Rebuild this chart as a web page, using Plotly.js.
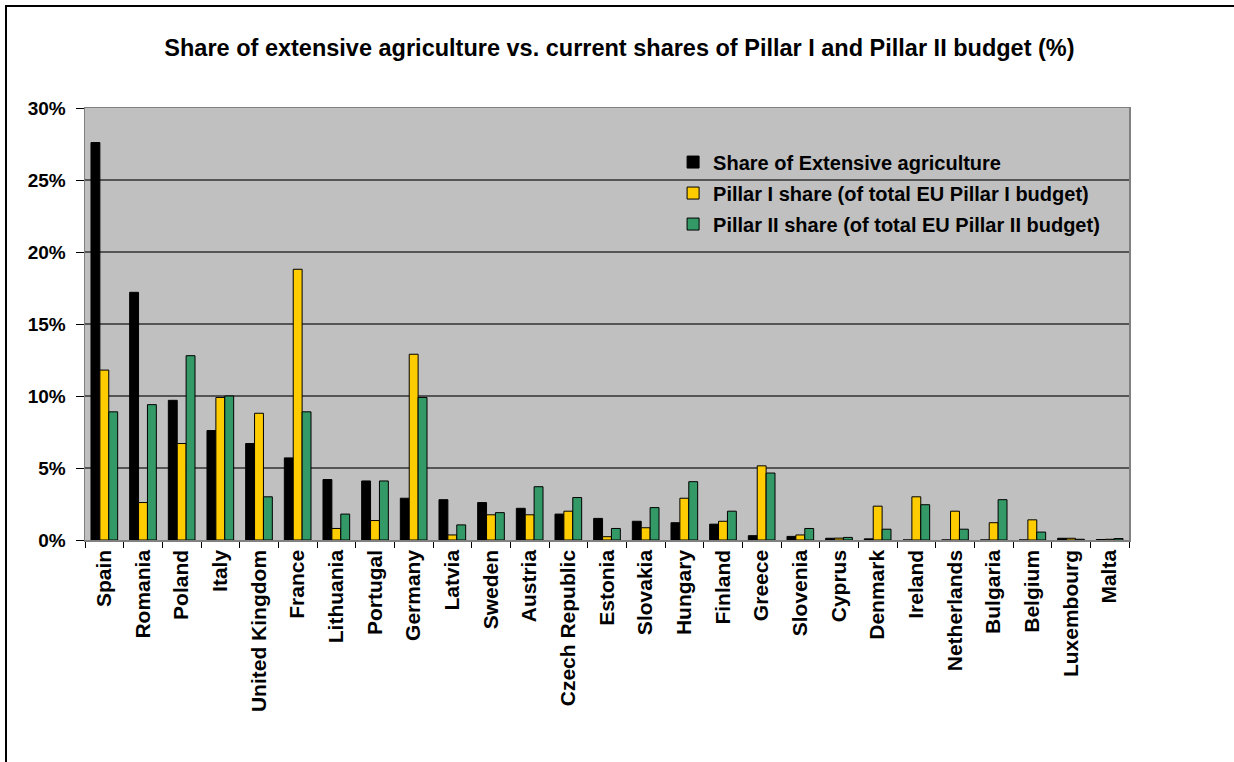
<!DOCTYPE html>
<html>
<head>
<meta charset="utf-8">
<script src="https://cdn.plot.ly/plotly-3.0.1.min.js"></script>
<style>
html,body{margin:0;padding:0;background:#fff;}
#chart{position:absolute;left:0;top:0;width:1234px;height:762px;}
#frame{position:absolute;left:5px;top:5px;width:1240px;height:770px;border-left:2px solid #000;border-top:2px solid #000;pointer-events:none;}
</style>
</head>
<body>
<div id="chart"></div>
<div id="frame"></div>
<script>
const countries = ["Spain","Romania","Poland","Italy","United Kingdom","France","Lithuania","Portugal","Germany","Latvia","Sweden","Austria","Czech Republic","Estonia","Slovakia","Hungary","Finland","Greece","Slovenia","Cyprus","Denmark","Ireland","Netherlands","Bulgaria","Belgium","Luxembourg","Malta"];
const extensiveShare = [27.6,17.2,9.7,7.6,6.7,5.7,4.2,4.1,2.9,2.8,2.6,2.2,1.8,1.5,1.3,1.2,1.1,0.3,0.25,0.12,0.08,0,0,0,0,0.12,0.03];
const pillar1Share = [11.8,2.6,6.7,9.9,8.8,18.8,0.8,1.35,12.9,0.35,1.75,1.75,2.0,0.23,0.85,2.9,1.3,5.15,0.35,0.13,2.35,3.0,2.0,1.2,1.4,0.12,0.05];
const pillar2Share = [8.9,9.4,12.8,10.0,3.0,8.9,1.8,4.1,9.9,1.05,1.9,3.7,2.95,0.8,2.25,4.05,2.0,4.65,0.8,0.18,0.75,2.45,0.75,2.8,0.55,0.05,0.1];
const seriesNames = ["Share of Extensive agriculture","Pillar I share (of total EU Pillar I budget)","Pillar II share (of total EU Pillar II budget)"];
const seriesColors = ["#000000","#FFCC00","#339966"];
const seriesValues = [extensiveShare, pillar1Share, pillar2Share];

const FONT = "Arial, Liberation Sans, Helvetica, sans-serif";
const traces = seriesValues.map((v,i)=>({
  type:"bar",
  name:seriesNames[i],
  x:countries,
  y:v,
  legendgroup:"g"+i,
  marker:{color:seriesColors[i], line:{color:"#000000", width:1}},
  hoverinfo:"x+y+name"
}));

const layout = {
  width:1234, height:762,
  margin:{l:85, r:105, t:108, b:222},
  paper_bgcolor:"rgba(0,0,0,0)",
  plot_bgcolor:"#C0C0C0",
  barmode:"group",
  bargap:0.31,
  bargroupgap:0,
  showlegend:true,
  title:{text:"Share of extensive agriculture vs. current shares of Pillar I and Pillar II budget (%)",
         font:{family:FONT, size:23.5, color:"#000", weight:"bold"},
         x:0.502, xref:"container", y:0.937, yref:"container", xanchor:"center", yanchor:"middle"},
  legend:{x:0.5633, y:0.92, xanchor:"left", yanchor:"top", bgcolor:"rgba(0,0,0,0)",
          font:{family:FONT, size:20, color:"#000", weight:"bold"}, tracegroupgap:2, itemwidth:30},
  xaxis:{type:"category", tickangle:-90, tickson:"boundaries", ticks:"outside", ticklen:6, tickcolor:"#000",
         tickfont:{family:FONT, size:21, color:"#000", weight:"bold"},
         showline:true, linecolor:"#808080", linewidth:1.5, mirror:true, showgrid:false, automargin:false},
  yaxis:{range:[0,30], dtick:5, ticksuffix:"%", ticks:"outside", ticklen:8, tickcolor:"#000",
         ticklabelstandoff:6,
         tickfont:{family:FONT, size:19, color:"#000", weight:"bold"},
         showline:true, linecolor:"#808080", linewidth:1.5, mirror:true,
         showgrid:true, gridcolor:"#555555", gridwidth:1.5, zeroline:false, automargin:false}
};

Plotly.newPlot("chart", traces, layout, {displayModeBar:false, staticPlot:true});
</script>
</body>
</html>
